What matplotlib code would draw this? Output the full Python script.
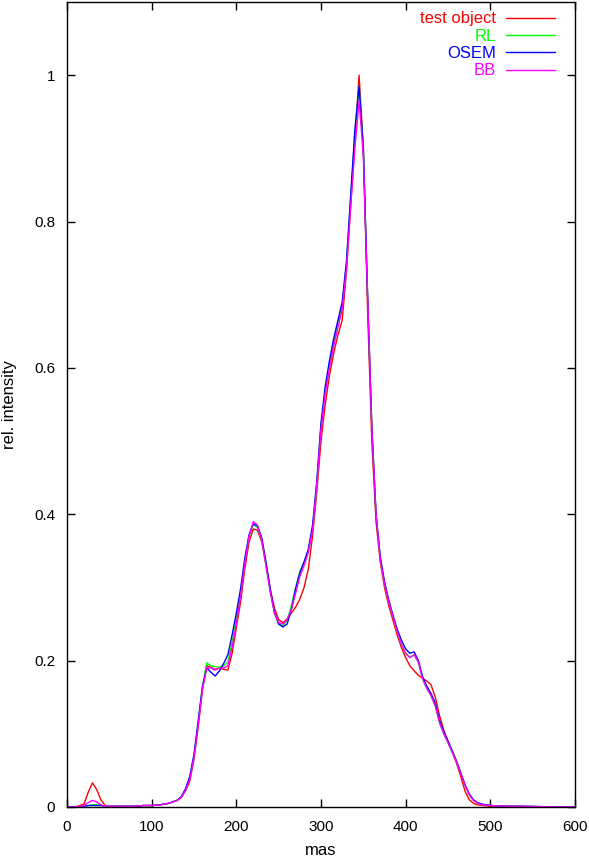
import matplotlib
matplotlib.use("Agg")
import matplotlib.pyplot as plt

plt.rcParams['font.family'] = ['Liberation Sans', 'DejaVu Sans']
plt.rcParams['font.size'] = 11

x = [0, 10, 20, 25, 30, 35, 40, 45, 50,
     60, 70, 80, 90, 100, 110, 120,
     130, 135, 140, 145, 150, 155, 160, 165, 170, 175, 180, 185, 190, 195,
     200, 205, 210, 215, 220, 225, 230, 235, 240, 245, 250, 255, 260, 265,
     270, 275, 280, 285, 290, 295, 300, 305, 310, 315, 320, 325, 330, 335,
     340, 345, 350, 355, 360, 365, 370, 375, 380, 385, 390, 395, 400, 405,
     410, 415, 420, 425, 430, 435, 440, 445, 450, 455, 460, 465, 470, 475,
     480, 485, 490,
     500, 520, 540, 560, 580, 600]

test_object = [0, 0, 0.004, 0.02, 0.033, 0.024, 0.01, 0.002, 0.001,
               0.001, 0.001, 0.001, 0.002, 0.002, 0.003, 0.005,
               0.009, 0.013, 0.022, 0.035, 0.065, 0.11, 0.16, 0.193, 0.191, 0.188, 0.19, 0.188, 0.187, 0.21,
               0.245, 0.28, 0.325, 0.362, 0.38, 0.378, 0.362, 0.332, 0.298, 0.272, 0.256, 0.252, 0.257, 0.265,
               0.273, 0.284, 0.3, 0.325, 0.37, 0.43, 0.5, 0.55, 0.59, 0.62, 0.645, 0.665, 0.73, 0.82,
               0.91, 1.0, 0.9, 0.68, 0.5, 0.39, 0.335, 0.3, 0.275, 0.255, 0.235, 0.218, 0.204, 0.193,
               0.186, 0.18, 0.176, 0.172, 0.167, 0.15, 0.125, 0.105, 0.09, 0.075, 0.06, 0.042, 0.022, 0.01,
               0.005, 0.003, 0.002,
               0.001, 0.001, 0.0005, 0.0, 0.0, 0.0]

rl = [0, 0, 0.001, 0.002, 0.003, 0.003, 0.002, 0.001, 0.001,
      0.001, 0.001, 0.001, 0.002, 0.002, 0.003, 0.005,
      0.009, 0.014, 0.024, 0.04, 0.07, 0.115, 0.165, 0.197, 0.193, 0.192, 0.191, 0.193, 0.198, 0.225,
      0.258, 0.29, 0.335, 0.37, 0.386, 0.382, 0.365, 0.33, 0.295, 0.265, 0.25, 0.248, 0.255, 0.275,
      0.3, 0.322, 0.335, 0.35, 0.38, 0.44, 0.52, 0.57, 0.605, 0.635, 0.66, 0.685, 0.74, 0.83,
      0.92, 0.985, 0.9, 0.7, 0.52, 0.4, 0.34, 0.305, 0.28, 0.26, 0.24, 0.222, 0.21, 0.205,
      0.208, 0.198, 0.175, 0.162, 0.152, 0.138, 0.115, 0.1, 0.088, 0.075, 0.062, 0.046, 0.03, 0.017,
      0.009, 0.005, 0.003,
      0.002, 0.001, 0.001, 0.0005, 0.0, 0.0]

osem = [0, 0, 0.001, 0.002, 0.002, 0.002, 0.002, 0.001, 0.001,
        0.001, 0.001, 0.001, 0.002, 0.002, 0.003, 0.005,
        0.009, 0.014, 0.025, 0.042, 0.072, 0.118, 0.165, 0.19, 0.184, 0.179, 0.186, 0.196, 0.208, 0.235,
        0.265, 0.298, 0.34, 0.372, 0.387, 0.384, 0.368, 0.335, 0.298, 0.266, 0.25, 0.246, 0.25, 0.27,
        0.298, 0.32, 0.335, 0.352, 0.385, 0.445, 0.525, 0.575, 0.61, 0.64, 0.665, 0.69, 0.745, 0.835,
        0.925, 0.985, 0.9, 0.7, 0.52, 0.4, 0.342, 0.308, 0.283, 0.262, 0.243, 0.228, 0.216, 0.21,
        0.212, 0.2, 0.178, 0.165, 0.155, 0.142, 0.118, 0.103, 0.09, 0.077, 0.063, 0.047, 0.031, 0.018,
        0.01, 0.006, 0.004,
        0.002, 0.001, 0.001, 0.0005, 0.0, 0.0]

bb = [0, 0, 0.002, 0.006, 0.009, 0.007, 0.003, 0.001, 0.001,
      0.001, 0.001, 0.001, 0.002, 0.002, 0.003, 0.005,
      0.009, 0.013, 0.023, 0.038, 0.068, 0.112, 0.162, 0.19, 0.19, 0.187, 0.19, 0.19, 0.193, 0.218,
      0.25, 0.288, 0.333, 0.37, 0.39, 0.385, 0.365, 0.33, 0.294, 0.265, 0.252, 0.25, 0.256, 0.27,
      0.292, 0.315, 0.33, 0.348, 0.378, 0.44, 0.515, 0.565, 0.6, 0.63, 0.655, 0.68, 0.735, 0.82,
      0.9, 0.965, 0.89, 0.7, 0.52, 0.4, 0.338, 0.305, 0.28, 0.26, 0.24, 0.222, 0.21, 0.204,
      0.208, 0.198, 0.175, 0.162, 0.152, 0.138, 0.115, 0.1, 0.088, 0.075, 0.062, 0.046, 0.03, 0.017,
      0.009, 0.005, 0.003,
      0.002, 0.001, 0.001, 0.0005, 0.0, 0.0]

labels = ["test object", "RL", "OSEM", "BB"]
colors = ["#ff0000", "#00ff00", "#0000ff", "#ff00ff"]
series = [test_object, rl, osem, bb]

x_ticks = [0, 100, 200, 300, 400, 500, 600]
y_ticks = [0, 0.2, 0.4, 0.6, 0.8, 1.0]
y_tick_labels = ["0", "0.2", "0.4", "0.6", "0.8", "1"]

fig = plt.figure(figsize=(5.89, 8.56), dpi=100)
ax = fig.add_axes([67 / 589, 49 / 856, 508 / 589, 805 / 856])

for ys, lab, c in zip(series, labels, colors):
    ax.plot(x, ys, color=c, lw=1.0, label=lab)

ax.set_xlim(0, 600)
ax.set_ylim(0, 1.1)
ax.set_xticks(x_ticks)
ax.set_yticks(y_ticks)
ax.set_yticklabels(y_tick_labels)
ax.tick_params(direction='in', length=6, width=1, top=True, right=True,
               labelsize=11)
ax.tick_params(axis='x', pad=9.5)
ax.tick_params(axis='y', pad=8.5)
for s in ax.spines.values():
    s.set_linewidth(1.0)

ax.set_xlabel("mas", fontsize=12, labelpad=6)
ax.set_ylabel("rel. intensity", fontsize=12, labelpad=12)

leg = ax.legend(loc='upper right', bbox_to_anchor=(0.974, 0.9965), frameon=False,
                markerfirst=False, labelcolor='linecolor', handlelength=2.95,
                handletextpad=0.6, labelspacing=0.14, borderaxespad=0.0,
                borderpad=0.4, fontsize=12)

fig.savefig("out.png", dpi=100)
